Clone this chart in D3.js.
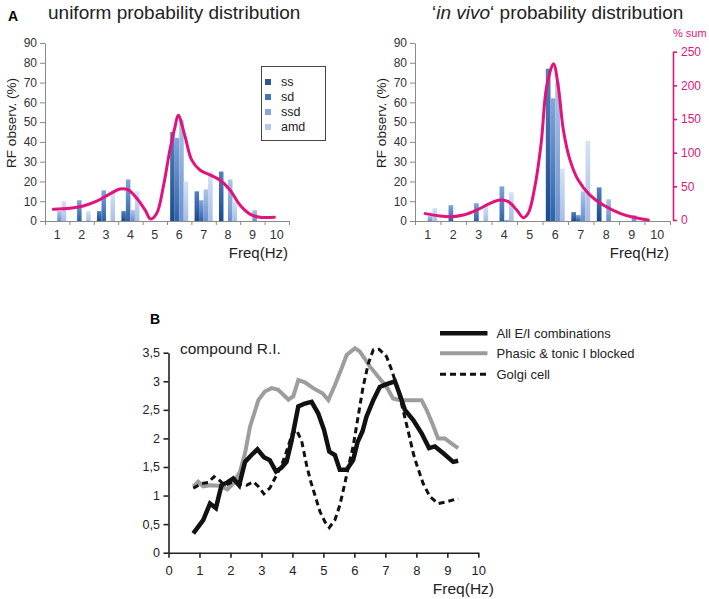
<!DOCTYPE html>
<html><head><meta charset="utf-8">
<script src="https://cdn.jsdelivr.net/npm/d3@7"></script>
<style>body{margin:0;background:#fff} svg{display:block} text{font-family:"Liberation Sans",Arial,Helvetica,sans-serif}</style>
</head><body>
<svg id="c" width="709" height="599"></svg>
<script>
// ---------- DATA ----------
const categories = [1,2,3,4,5,6,7,8,9,10];
const seriesNames = ["ss","sd","ssd","amd"];
const yTicksA = [0,10,20,30,40,50,60,70,80,90];
const yTicksRight = [0,50,100,150,200,250];
// uniform probability distribution (RF observ. %)
const uniSS  = [0,0,5,5,0,45,15,25,0,0];
const uniSD  = [0,10.5,15.5,21,0,42,10.5,0,0,0];
const uniSSD = [5,0,0,5.5,0,51,16,21,5.5,0];
const uniAMD = [10,5,14.5,15,0,20,25,10,0,0];
const uniCurveX = [0.84,1.52,2.07,2.62,3.16,3.57,3.91,4.26,4.6,4.83,5.08,5.35,5.62,5.83,5.96,6.24,6.51,6.85,7.26,7.67,8.08,8.49,8.9,9.3,9.9];
const uniCurveY = [5.9,6.4,7.6,10,13.7,16.2,15.7,11.5,5.6,1,3.9,17.4,36,47.7,53.5,42.7,30.9,25.8,23.3,20.7,15.7,8.1,3.5,1.9,1.9];
// 'in vivo' probability distribution
const vivoSS  = [0,0,0,0,0,77,4.5,17,0,0];
const vivoSD  = [0,8,9,17.5,0,62,3,0,0,0];
const vivoSSD = [2.5,0,0,0.5,0,70,15,11,3,0];
const vivoAMD = [6.5,0,8,14.5,0,26.5,40.5,0,0,0];
const vivoCurveX = [0.9,1.48,1.94,2.39,2.92,3.44,3.83,4.16,4.49,4.75,4.94,5.2,5.45,5.66,5.93,6.12,6.32,6.58,6.9,7.36,7.88,8.54,9.06,9.65];
const vivoCurveY = [9.5,5.9,4.9,7.4,14.8,24.7,29.6,27.2,14.8,3.4,9.9,49.4,115,197.6,232,197.6,133.4,88.9,59.3,37,22.2,9.9,4,0];
// B: compound R.I.
const xTicksB = [0,1,2,3,4,5,6,7,8,9,10];
const yTicksB = [0,0.5,1,1.5,2,2.5,3,3.5];
const allEIx = [0.8,1.12,1.34,1.53,1.71,1.9,2.09,2.28,2.47,2.68,2.87,3.08,3.27,3.47,3.65,3.81,3.97,4.19,4.4,4.62,4.83,5.02,5.19,5.37,5.53,5.75,5.96,6.1,6.26,6.39,6.61,6.82,7.04,7.31,7.47,7.63,7.9,8.17,8.41,8.6,8.87,9.19,9.35];
const allEIy = [0.34,0.57,0.86,0.78,1.18,1.23,1.3,1.18,1.59,1.71,1.81,1.67,1.62,1.42,1.49,1.59,1.95,2.56,2.61,2.64,2.44,2.15,1.77,1.71,1.45,1.45,1.62,1.93,2.12,2.38,2.67,2.9,2.95,3.0,2.76,2.5,2.32,2.09,1.83,1.86,1.74,1.59,1.61];
const blockedX = [0.8,0.96,1.12,1.34,1.66,1.9,2.09,2.31,2.47,2.63,2.9,3.11,3.33,3.54,3.87,4.03,4.19,4.4,4.67,4.97,5.16,5.37,5.59,5.75,6.02,6.18,6.5,6.77,7.04,7.25,7.47,7.68,7.9,8.17,8.33,8.54,8.7,8.92,9.14,9.35];
const blockedY = [1.16,1.24,1.16,1.18,1.17,1.11,1.21,1.42,1.74,2.2,2.67,2.82,2.88,2.85,2.68,2.74,3.02,2.98,2.88,2.79,2.67,2.93,3.23,3.46,3.58,3.52,3.26,3.08,2.9,2.7,2.67,2.67,2.67,2.67,2.5,2.23,2.0,2.0,1.91,1.83];
const golgiX = [0.8,1.07,1.28,1.47,1.66,1.82,2.04,2.31,2.52,2.74,2.9,3.08,3.27,3.49,3.65,3.79,4.0,4.13,4.3,4.47,4.6,4.73,4.89,5.05,5.19,5.37,5.53,5.69,5.83,5.96,6.12,6.28,6.45,6.61,6.8,7.04,7.2,7.41,7.57,7.74,7.9,8.0,8.22,8.44,8.7,8.97,9.35];
const golgiY = [1.13,1.21,1.23,1.33,1.26,1.18,1.23,1.2,1.18,1.24,1.16,1.03,1.13,1.36,1.53,1.74,2.09,2.15,1.95,1.5,1.23,1.0,0.72,0.54,0.44,0.57,0.83,1.21,1.56,1.86,2.38,2.9,3.31,3.55,3.56,3.43,3.2,2.85,2.5,2.12,1.74,1.56,1.21,0.98,0.86,0.89,0.95];

// ---------- DRAW ----------
const svg = d3.select("#c");
const PINK = "#e0147b", AXG = "#8a8a8a", TXT = "#333";
const defs = svg.append("defs");
const gradStops = {ss:["#1b4b8d","#5580c0"], sd:["#2d63a9","#82a6da"], ssd:["#6a90cb","#adc4ea"], amd:["#a6bee6","#d6e2f5"]};
const legendCol = {ss:"#2b5994", sd:"#4675b8", ssd:"#87a5d6", amd:"#b5c8e9"};
seriesNames.forEach(s=>{
  const g = defs.append("linearGradient").attr("id","g_"+s).attr("x1",0).attr("y1",1).attr("x2",0).attr("y2",0);
  g.append("stop").attr("offset","0%").attr("stop-color",gradStops[s][0]);
  g.append("stop").attr("offset","100%").attr("stop-color",gradStops[s][1]);
});

function panelA(cfg){
  const g = svg.append("g");
  const xB = d3.scaleBand().domain(categories).range([cfg.x0,cfg.x1]).paddingInner(0).paddingOuter(0);
  const xS = d3.scaleBand().domain(seriesNames).range([0,xB.bandwidth()]).paddingInner(0).paddingOuter(0.7);
  const xL = d3.scaleLinear().domain([0.5,10.5]).range([cfg.x0,cfg.x1]);
  const y = d3.scaleLinear().domain([0,90]).range([221,43]);
  // bars
  const data = [];
  seriesNames.forEach((s,si)=>categories.forEach((c,ci)=>{ if(cfg.vals[si][ci]>0) data.push({s,c,v:cfg.vals[si][ci]}); }));
  g.selectAll("rect.bar").data(data).join("rect").attr("class","bar")
    .attr("x",d=>xB(d.c)+xS(d.s)).attr("width",xS.bandwidth())
    .attr("y",d=>y(d.v)).attr("height",d=>y(0)-y(d.v)).attr("fill",d=>"url(#g_"+d.s+")");
  // y axis
  const ya = g.append("g").attr("transform",`translate(${cfg.x0},0)`)
    .call(d3.axisLeft(y).tickValues(yTicksA).tickSize(5).tickSizeOuter(0).tickPadding(3));
  ya.selectAll("path,line").attr("stroke",AXG);
  ya.selectAll("text").attr("fill",TXT).style("font-size","12px");
  // x axis ticks at boundaries
  const xa = g.append("g").attr("transform","translate(0,221)")
    .call(d3.axisBottom(xL).tickValues(d3.range(0.5,11,1)).tickSize(4).tickSizeOuter(0).tickFormat(""));
  xa.selectAll("path,line").attr("stroke",AXG);
  const xl = g.append("g").attr("transform","translate(0,221)")
    .call(d3.axisBottom(xB).tickSize(0).tickPadding(9.5));
  xl.select(".domain").remove();
  xl.selectAll("text").attr("fill",TXT).style("font-size","12.5px");
  // curve
  let yc = y;
  if(cfg.right){
    const yR = d3.scaleLinear().domain([0,250]).range([220,51.7]);
    yc = yR;
    const ra = g.append("g").attr("transform",`translate(${cfg.x1+3},0)`)
      .call(d3.axisRight(yR).tickValues(yTicksRight).tickSize(4).tickSizeOuter(0).tickPadding(4));
    ra.selectAll("path,line").attr("stroke",PINK).attr("stroke-width",1.6);
    ra.selectAll("text").attr("fill",PINK).style("font-size","12px");
    g.append("text").attr("x",cfg.x1+3).attr("y",37).attr("fill",PINK).style("font-size","11px").text("% sum");
  }
  const pts = cfg.cx.map((v,i)=>[xL(v), yc(cfg.cy[i])]);
  g.append("path").attr("d",d3.line().curve(d3.curveCatmullRom.alpha(0.5))(pts))
    .attr("fill","none").attr("stroke",PINK).attr("stroke-width",3).attr("stroke-linecap","round");
  // labels
  g.append("text").attr("transform",`translate(${cfg.ytx},123) rotate(-90)`).attr("text-anchor","middle")
    .style("font-size","13.5px").attr("fill","#222").text("RF observ. (%)");
  g.append("text").attr("x",cfg.x1-1).attr("y",258).attr("text-anchor","end").style("font-size","15px").attr("fill","#222").text("Freq(Hz)");
  return g;
}

panelA({x0:45,x1:289,vals:[uniSS,uniSD,uniSSD,uniAMD],cx:uniCurveX,cy:uniCurveY,ytx:16,right:false});
panelA({x0:415,x1:670,vals:[vivoSS,vivoSD,vivoSSD,vivoAMD],cx:vivoCurveX,cy:vivoCurveY,ytx:386,right:true});

// titles
svg.append("text").attr("x",8).attr("y",21).style("font-size","14px").style("font-weight","bold").text("A");
svg.append("text").attr("x",48).attr("y",19).style("font-size","19px").attr("fill","#222").text("uniform probability distribution");
const t2 = svg.append("text").attr("x",432).attr("y",19).style("font-size","19px").attr("fill","#222");
t2.append("tspan").text("\u2018");
t2.append("tspan").style("font-style","italic").text("in vivo");
t2.append("tspan").text("\u2018 probability distribution");

// legend A
const lg = svg.append("g");
lg.append("rect").attr("x",261.5).attr("y",66.5).attr("width",64).attr("height",74).attr("fill","#fff").attr("stroke","#444").attr("stroke-width",1);
seriesNames.forEach((s,i)=>{
  const yy = 82 + i*15;
  lg.append("rect").attr("x",265).attr("y",yy-3).attr("width",6).attr("height",6).attr("fill",legendCol[s]);
  lg.append("text").attr("x",281).attr("y",yy+4).style("font-size","12.5px").attr("fill","#222").text(s);
});

// ---------- PANEL B ----------
const gB = svg.append("g");
const xBs = d3.scaleLinear().domain([0,10]).range([168.5,478.3]);
const yBs = d3.scaleLinear().domain([0,3.5]).range([552.7,352.7]);
const comma = d => String(d).replace(".",",");
const bya = gB.append("g").attr("transform","translate(168.5,0)")
  .call(d3.axisLeft(yBs).tickValues(yTicksB).tickFormat(comma).tickSize(5).tickSizeOuter(0).tickPadding(3.5));
bya.selectAll("path,line").attr("stroke","#222").attr("stroke-width",1.6);
bya.selectAll("text").attr("fill","#222").style("font-size","12.5px");
const bxa = gB.append("g").attr("transform","translate(0,552.7)")
  .call(d3.axisBottom(xBs).tickValues(xTicksB).tickSize(5).tickSizeOuter(0).tickPadding(8));
bxa.selectAll("path,line").attr("stroke","#222").attr("stroke-width",1.6);
bxa.selectAll("text").attr("fill","#222").style("font-size","13px");

const lineB = d3.line().x(d=>xBs(d[0])).y(d=>yBs(d[1]));
const zip = (a,b)=>a.map((v,i)=>[v,b[i]]);
gB.append("path").attr("d",lineB(zip(blockedX,blockedY))).attr("fill","none").attr("stroke","#9d9d9d").attr("stroke-width",4).attr("stroke-linejoin","miter");
gB.append("path").attr("d",lineB(zip(golgiX,golgiY))).attr("fill","none").attr("stroke","#111").attr("stroke-width",3).attr("stroke-dasharray","6,4");
gB.append("path").attr("d",lineB(zip(allEIx,allEIy))).attr("fill","none").attr("stroke","#111").attr("stroke-width",4.5).attr("stroke-linejoin","miter");

gB.append("text").attr("x",150).attr("y",324).style("font-size","14px").style("font-weight","bold").text("B");
gB.append("text").attr("x",180).attr("y",354).style("font-size","15.5px").attr("fill","#222").text("compound R.I.");
gB.append("text").attr("x",494).attr("y",594).attr("text-anchor","end").style("font-size","15.5px").attr("fill","#222").text("Freq(Hz)");

const legB = [["All E/I combinations","#111",4.5,null,333.3],["Phasic & tonic I blocked","#9d9d9d",4,null,353.3],["Golgi cell","#111",3,"6,4",374.3]];
legB.forEach(d=>{
  gB.append("line").attr("x1",440).attr("x2",487.5).attr("y1",d[4]).attr("y2",d[4]).attr("stroke",d[1]).attr("stroke-width",d[2]).attr("stroke-dasharray",d[3]);
  gB.append("text").attr("x",496.5).attr("y",d[4]+4.5).style("font-size","13px").attr("fill","#222").text(d[0]);
});
</script>
</body></html>
